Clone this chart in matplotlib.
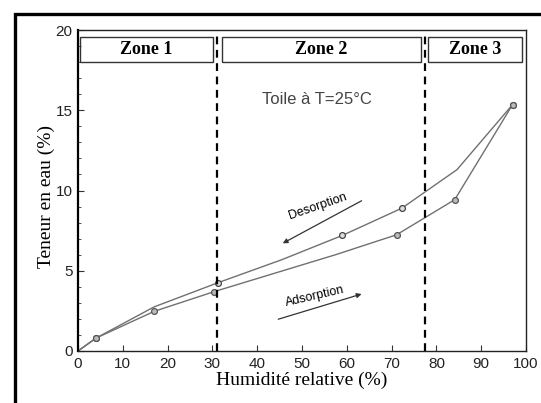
import matplotlib
matplotlib.use("Agg")
import matplotlib.pyplot as plt
from matplotlib.patches import Rectangle
from matplotlib.ticker import MultipleLocator

# courbe de desorption (haut)
hr_des = [0, 4, 17, 31.2, 45.6, 59, 72.3, 84.6, 97]
w_des = [0, 0.8, 2.75, 4.25, 5.7, 7.2, 8.9, 11.3, 15.35]
mk_des = [1, 3, 5, 6, 8]

# courbe d'adsorption (bas)
hr_ads = [0, 4, 17, 30.4, 57.5, 71.1, 84.1, 97]
w_ads = [0, 0.8, 2.47, 3.7, 6.0, 7.24, 9.43, 15.35]
mk_ads = [1, 2, 3, 5, 6, 7]

limites = [31, 77.5]
zones = ["Zone 1", "Zone 2", "Zone 3"]
zone_x = [(0.45, 30.2), (32.1, 76.5), (78.1, 99.0)]

tick_font = ["Liberation Sans Narrow", "Liberation Sans"]

fig = plt.figure(figsize=(5.41, 4.03), dpi=100)
ax = fig.add_axes([78 / 541, 1 - 351 / 403, 448 / 541, 321 / 403])

# cadre noir epais autour de la figure
fig.patches.append(Rectangle((14.5 / 541, -0.1), 1.0, 1.1 - 13.5 / 403,
                             transform=fig.transFigure, fill=False,
                             edgecolor="black", linewidth=2.4))

ax.plot(hr_des, w_des, color="#707070", lw=1.0, marker="o", markevery=mk_des,
        ms=4.2, mfc="#dddddd", mec="#444444", mew=0.9)
ax.plot(hr_ads, w_ads, color="#707070", lw=1.0, marker="o", markevery=mk_ads,
        ms=4.2, mfc="#bbbbbb", mec="#555555", mew=0.9)

for xl in limites:
    ax.axvline(xl, color="black", lw=1.6, ls=(0, (3.5, 2.5)))

for nom, (x0, x1) in zip(zones, zone_x):
    ax.add_patch(Rectangle((x0, 18.0), x1 - x0, 1.55, fill=False,
                           edgecolor="#333333", lw=1.0))
    ax.text((x0 + x1) / 2, 18.76, nom, ha="center", va="center",
            family="Liberation Serif", weight="bold", fontsize=13)

ax.text(53.3, 15.65, "Toile à T=25°C", ha="center", va="center",
        family="Liberation Sans", fontsize=12, color="#444444")

ax.annotate("", xy=(45.7, 6.71), xytext=(63.3, 9.36),
            arrowprops=dict(arrowstyle="-|>", color="#333333", lw=0.9,
                            mutation_scale=7, shrinkA=0, shrinkB=0))
ax.text(53.6, 9.0, "Desorption", ha="center", va="center", rotation=19,
        family="Liberation Sans", fontsize=9)

ax.annotate("", xy=(63.3, 3.55), xytext=(44.7, 1.98),
            arrowprops=dict(arrowstyle="-|>", color="#333333", lw=0.9,
                            mutation_scale=7, shrinkA=0, shrinkB=0))
ax.text(52.9, 3.38, "Adsorption", ha="center", va="center", rotation=13,
        family="Liberation Sans", fontsize=9)

ax.set_xlim(0, 100)
ax.set_ylim(0, 20)
ax.xaxis.set_major_locator(MultipleLocator(10))
ax.yaxis.set_major_locator(MultipleLocator(5))
ax.yaxis.set_minor_locator(MultipleLocator(1))
ax.tick_params(which="both", direction="in", top=False, right=False,
               color="#333333", labelcolor="#222222")
ax.tick_params(which="major", length=4, width=0.8, labelsize=11, pad=4)
ax.tick_params(which="minor", length=2, width=0.6)
for lab in ax.get_xticklabels() + ax.get_yticklabels():
    lab.set_family(tick_font)

for sp in ax.spines.values():
    sp.set_linewidth(1.0)
    sp.set_color("#222222")
ax.spines["left"].set_linewidth(1.6)
ax.spines["left"].set_color("black")

ax.set_xlabel("Humidité relative (%)", family="Liberation Serif",
              fontsize=14, labelpad=1)
ax.set_ylabel("Teneur en eau (%)", family="Liberation Serif",
              fontsize=14)
ax.yaxis.set_label_coords(-0.052, 0.48)

fig.savefig("out.png", dpi=100)
